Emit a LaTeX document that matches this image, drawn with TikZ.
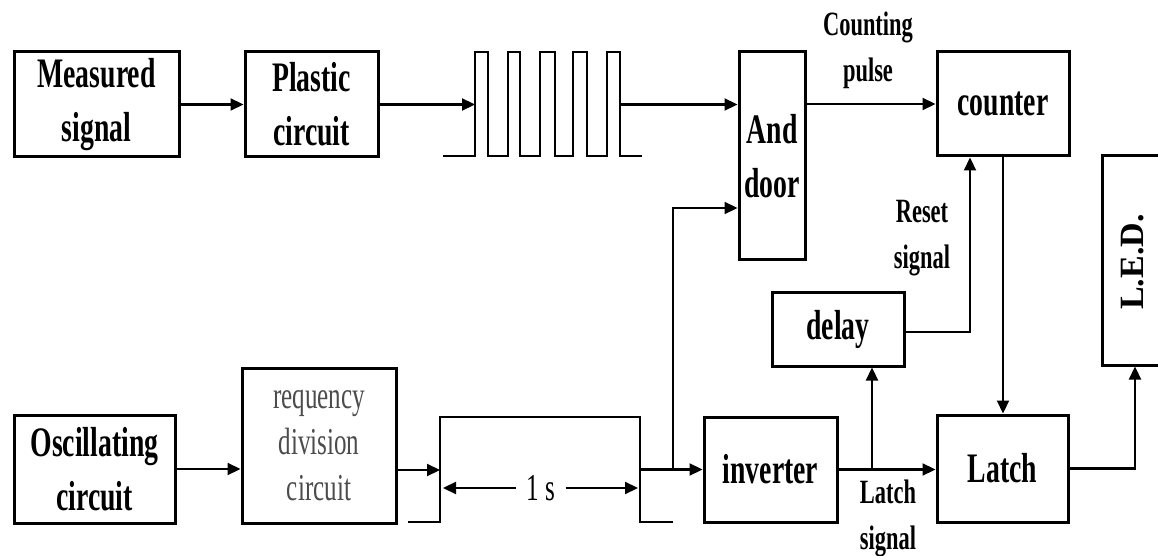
\documentclass[tikz,border=0pt]{standalone}
\usepackage{fontspec}
\setmainfont{Liberation Serif}
\newfontfamily\cnd[FakeStretch=0.66]{Liberation Serif}
\usetikzlibrary{arrows.meta}
\begin{document}
\begin{tikzpicture}[x=0.5pt,y=-0.5pt,
 box/.style={draw=black, line width=1.5pt, inner sep=0pt, align=center, font=\cnd\bfseries\fontsize{21}{27}\selectfont},
 lab/.style={align=center, inner sep=0pt, font=\cnd\bfseries\fontsize{17}{23}\selectfont},
 conn/.style={line width=1.1pt, -{Triangle[length=6.5pt,width=6pt]}},
 wave/.style={line width=1.3pt}]
\useasboundingbox (0,0) rectangle (1158,556);

% boxes
\node[box, minimum width=82.5pt, minimum height=52.5pt] (meas) at (96.5,104.5) {Measured\\signal};
\node[box, minimum width=66.5pt, minimum height=52.5pt] (plast) at (311.5,104.5) {Plastic\\circuit};
\node[box, minimum width=33pt, minimum height=104pt] (and) at (772,156) {And\\door};
\node[box, minimum width=66pt, minimum height=52pt] (counter) at (1003,104) {counter};
\node[box, minimum width=31pt, minimum height=104.5pt] (led) at (1133,260.5) {};
\node[font=\bfseries\fontsize{17}{20}\selectfont, rotate=90, inner sep=0pt] (ledt) at (1133,262) {L.E.D.};
\node[box, minimum width=66pt, minimum height=37pt] (delay) at (838,329) {delay};
\node[box, minimum width=80.5pt, minimum height=54pt] (osc) at (94.5,469) {Oscillating\\circuit};
\node[box, minimum width=77pt, minimum height=77.5pt, text=black!70, font=\cnd\fontsize{19}{23}\selectfont] (freq) at (319,445.5) {requency\\division\\circuit};
\node[box, minimum width=66.5pt, minimum height=52.5pt] (inv) at (770.5,469.5) {inverter};
\node[box, minimum width=65.5pt, minimum height=53.5pt] (latch) at (1002.5,468.5) {Latch};

% labels
\node[lab] (cp) at (868,50) {Counting\\pulse};
\node[lab] (rsl) at (922,238) {Reset\\signal};
\node[lab] (lsl) at (888,518) {Latch\\signal};

% top row
\coordinate (pstart) at (475,104.5);
\coordinate (pend) at (620,104.5);
\draw[conn] (meas.east) -- (plast.west);
\draw[conn] (plast.east) -- (pstart);
\draw[wave] (443,156) -- (475,156) -- (475,52) -- (488,52) -- (488,156) -- (508,156) -- (508,52) -- (520,52)
  -- (520,156) -- (540,156) -- (540,52) -- (555,52) -- (555,156) -- (573,156) -- (573,52) -- (587,52)
  -- (587,156) -- (607,156) -- (607,52) -- (620,52) -- (620,156) -- (642,156);
\draw[conn] (pend) -- (pend -| and.west);
\draw[conn] (and.east |- counter.west) -- (counter.west);

% bottom row
\coordinate (gin) at (440,470);
\draw[conn] (osc.east) -- (osc.east -| freq.west);
\draw[conn] (freq.east |- gin) -- (gin);
\draw[wave] (408,522) -- (440,522) -- (440,417) -- (640,417) -- (640,522) -- (673,522);
\node[inner sep=5pt, font=\cnd\fontsize{19}{23}\selectfont] (ones) at (541,488) {1 s};
\coordinate (gl) at (443,488);
\coordinate (gr) at (638,488);
\draw[conn] (ones.west) -- (gl);
\draw[conn] (ones.east) -- (gr);

\coordinate (gout) at (640,469.5);
\coordinate (br1) at (673,469.5);
\coordinate (br2) at (673,208);
\draw[conn] (gout) -- (inv.west);
\draw[conn] (br1) -- (br2) -- (br2 -| and.west);

\coordinate (br3) at (872,469.5);
\draw[conn] (inv.east) -- (inv.east -| latch.west);
\draw[conn] (br3) -- (br3 |- delay.south);

\coordinate (rs) at (970,332);
\draw[conn] (delay.east |- rs) -- (rs) -- (rs |- counter.south);
\draw[conn] (counter.south) -- (counter.south |- latch.north);

\coordinate (lc) at (1135,468.5);
\draw[conn] (latch.east) -- (lc) -- (lc |- led.south);
\end{tikzpicture}
\end{document}
